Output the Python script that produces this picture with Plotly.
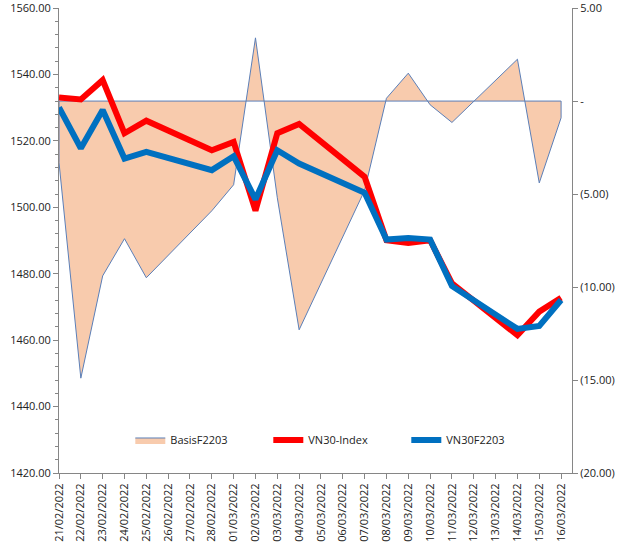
import plotly.graph_objects as go

# ---- data ----
dates = ["2022-02-21", "2022-02-22", "2022-02-23", "2022-02-24", "2022-02-25",
         "2022-02-28", "2022-03-01", "2022-03-02", "2022-03-03", "2022-03-04",
         "2022-03-07", "2022-03-08", "2022-03-09", "2022-03-10", "2022-03-11",
         "2022-03-14", "2022-03-15", "2022-03-16"]
vn30_index = [1533.1, 1532.5, 1538.3, 1522.3, 1526.1, 1517.2, 1519.7, 1499.0, 1522.3,
              1525.1, 1509.2, 1490.1, 1489.3, 1490.1, 1477.1, 1461.5, 1468.6, 1472.8]
vn30f2203 = [1530.1, 1517.8, 1529.3, 1514.7, 1516.7, 1511.2, 1515.4, 1502.4, 1517.2,
             1513.2, 1504.4, 1490.3, 1490.8, 1490.3, 1476.3, 1463.4, 1464.3, 1472.1]
basis = [-3.3, -14.9, -9.4, -7.4, -9.5, -5.9, -4.5, 3.4, -5.2,
         -12.3, -4.8, 0.15, 1.5, -0.2, -1.15, 2.25, -4.4, -0.9]

tick_days = ["2022-02-%02d" % d for d in range(21, 29)] + ["2022-03-%02d" % d for d in range(1, 17)]
tick_text = [d[8:10] + "/" + d[5:7] + "/" + d[0:4] for d in tick_days]

left_ticks = [1420, 1440, 1460, 1480, 1500, 1520, 1540, 1560]
right_ticks = [5, 0, -5, -10, -15, -20]
right_text = ["5.00", "-", "(5.00)", "(10.00)", "(15.00)", "(20.00)"]

# closed polygon for the area (Excel-style border incl. baseline)
poly_x = [dates[0]] + dates + [dates[-1], dates[0]]
poly_y = [0] + basis + [0, 0]

FONT = "Open Sans"
AX = "#868686"

fig = go.Figure()
fig.add_trace(go.Scatter(
    x=poly_x, y=poly_y, name="BasisF2203", mode="lines",
    fill="toself", fillcolor="#F8CBAD",
    line=dict(color="#5B7FB8", width=1), yaxis="y"))
fig.add_trace(go.Scatter(
    x=dates, y=vn30_index, name="VN30-Index", mode="lines",
    line=dict(color="#FF0000", width=6), yaxis="y2"))
fig.add_trace(go.Scatter(
    x=dates, y=vn30f2203, name="VN30F2203", mode="lines",
    line=dict(color="#0070C0", width=6), yaxis="y2"))

fig.update_layout(
    width=629, height=554,
    margin=dict(l=59, r=57, t=8, b=81),
    paper_bgcolor="white", plot_bgcolor="white",
    font=dict(family=FONT, size=11, color="#222222"),
    xaxis=dict(
        type="date", range=["2022-02-21", "2022-03-16 12:00"],
        tickvals=tick_days, ticktext=tick_text, tickangle=-90,
        showgrid=False, showline=True, linecolor=AX, linewidth=1,
        ticks="outside", ticklen=5, tickcolor=AX, zeroline=False,
        tickfont=dict(size=11), automargin=False),
    yaxis=dict(
        side="right", range=[-20, 5.005], tickvals=right_ticks, ticktext=right_text,
        showgrid=False, showline=True, linecolor=AX, ticks="outside",
        ticklen=5, tickcolor=AX, zeroline=False, ticklabeloverflow="allow",
        automargin=False),
    yaxis2=dict(
        side="left", overlaying="y", range=[1420, 1560.03], tickvals=left_ticks,
        tickformat=".2f", showgrid=False, showline=True, linecolor=AX,
        ticks="outside", ticklen=5, tickcolor=AX, zeroline=False,
        ticklabeloverflow="allow", automargin=False,
        minor=dict(ticks="outside", dtick=4, ticklen=3, tickcolor=AX)),
    legend=dict(
        orientation="h", x=0.139, y=0.071, xanchor="left", yanchor="middle",
        entrywidth=93, entrywidthmode="pixels", bgcolor="rgba(0,0,0,0)",
        font=dict(size=11), traceorder="normal"),
    showlegend=True,
)

fig.write_html("out.html")
